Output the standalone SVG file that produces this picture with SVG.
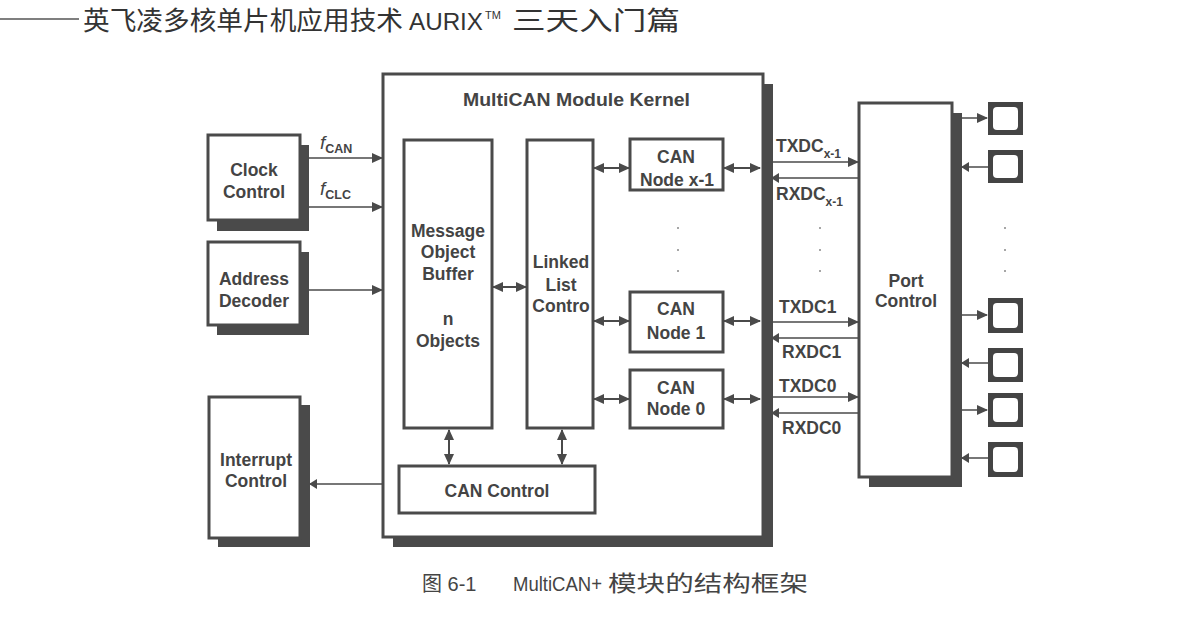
<svg xmlns="http://www.w3.org/2000/svg" width="1178" height="621" viewBox="0 0 1178 621">
<style>
.t{font-family:"Liberation Sans","Noto Sans CJK SC",sans-serif;fill:#444}
.b{font-weight:bold;font-size:17.5px}
.box{fill:#fff;stroke:#4a4a4a;stroke-width:3}
.sh{fill:#4a4a4a}
.ln{stroke:#4a4a4a;stroke-width:1.5;fill:none}
.da{stroke:#4a4a4a;stroke-width:2;fill:none;marker-start:url(#ah);marker-end:url(#ah)}
.pin{fill:#444}
.pinin{fill:#fff}
.dot{fill:#888}
.hd{fill:#333}
</style>
<defs>
<marker id="ah" markerUnits="userSpaceOnUse" markerWidth="11" markerHeight="10" refX="10" refY="5" orient="auto-start-reverse"><path d="M0,0 L11,5 L0,10 z" fill="#4a4a4a"/></marker>
<marker id="as" markerUnits="userSpaceOnUse" markerWidth="8" markerHeight="10" refX="7" refY="5" orient="auto"><path d="M0,0 L8,5 L0,10 z" fill="#4a4a4a"/></marker>
</defs>
<rect width="1178" height="621" fill="#fff"/>
<g id="header">
<line x1="0" y1="19" x2="79" y2="19" stroke="#555" stroke-width="1.5"/>
<text class="t hd" x="83" y="30" font-size="26" textLength="320" lengthAdjust="spacingAndGlyphs">英飞凌多核单片机应用技术</text>
<text class="t hd" x="409" y="30" font-size="24" textLength="74" lengthAdjust="spacingAndGlyphs">AURIX</text>
<text class="t hd" x="485" y="19" font-size="11">TM</text>
<text class="t hd" x="512" y="30" font-size="26" textLength="168" lengthAdjust="spacingAndGlyphs">三天入门篇</text>
</g>
<g id="kernel">
<rect class="sh" x="393" y="84" width="380" height="463"/>
<rect class="box" x="383" y="74" width="380" height="463"/>
<text class="t b" x="463" y="106" textLength="227" lengthAdjust="spacingAndGlyphs">MultiCAN Module Kernel</text>
</g>
<g id="clock">
<rect class="sh" x="217" y="145" width="92" height="86"/>
<rect class="box" x="208" y="135" width="92" height="85"/>
<text class="t b" x="254" y="176" text-anchor="middle">Clock</text>
<text class="t b" x="254" y="198" text-anchor="middle">Control</text>
</g>
<g id="address">
<rect class="sh" x="217" y="252" width="92" height="83"/>
<rect class="box" x="208" y="242" width="92" height="83"/>
<text class="t b" x="254" y="285" text-anchor="middle">Address</text>
<text class="t b" x="254" y="307" text-anchor="middle">Decoder</text>
</g>
<g id="interrupt">
<rect class="sh" x="218" y="405" width="92" height="142"/>
<rect class="box" x="209" y="397" width="91" height="141"/>
<text class="t b" x="256" y="466" text-anchor="middle">Interrupt</text>
<text class="t b" x="256" y="487" text-anchor="middle">Control</text>
</g>
<g id="mob">
<rect class="box" x="404" y="140" width="88" height="288"/>
<text class="t b" x="448" y="237" text-anchor="middle">Message</text>
<text class="t b" x="448" y="258" text-anchor="middle">Object</text>
<text class="t b" x="448" y="280" text-anchor="middle">Buffer</text>
<text class="t b" x="448" y="325" text-anchor="middle">n</text>
<text class="t b" x="448" y="347" text-anchor="middle">Objects</text>
</g>
<g id="llc">
<rect class="box" x="527" y="140" width="66" height="288"/>
<text class="t b" x="561" y="268" text-anchor="middle">Linked</text>
<text class="t b" x="561" y="291" text-anchor="middle">List</text>
<text class="t b" x="561" y="312" text-anchor="middle">Contro</text>
</g>
<g id="nodex1">
<rect class="box" x="630" y="139" width="93" height="51"/>
<text class="t b" x="676" y="163" text-anchor="middle">CAN</text>
<text class="t b" x="677" y="186" text-anchor="middle">Node x-1</text>
</g>
<g id="node1">
<rect class="box" x="630" y="292" width="93" height="60"/>
<text class="t b" x="676" y="315" text-anchor="middle">CAN</text>
<text class="t b" x="676" y="339" text-anchor="middle">Node 1</text>
</g>
<g id="node0">
<rect class="box" x="630" y="370" width="93" height="58"/>
<text class="t b" x="676" y="394" text-anchor="middle">CAN</text>
<text class="t b" x="676" y="415" text-anchor="middle">Node 0</text>
</g>
<g id="cancontrol">
<rect class="box" x="399" y="466" width="196" height="47"/>
<text class="t b" x="497" y="497" text-anchor="middle">CAN Control</text>
</g>
<g id="port">
<rect class="sh" x="869" y="113" width="93" height="374"/>
<rect class="box" x="859" y="103" width="93" height="374"/>
<text class="t b" x="906" y="287" text-anchor="middle">Port</text>
<text class="t b" x="906" y="307" text-anchor="middle">Control</text>
</g>
<g id="pins">
<rect class="pin" x="988" y="102" width="35" height="33"/><rect class="pinin" x="993" y="107" width="25" height="23" rx="4"/>
<rect class="pin" x="988" y="150" width="35" height="33"/><rect class="pinin" x="993" y="155" width="25" height="23" rx="4"/>
<rect class="pin" x="988" y="298" width="35" height="35"/><rect class="pinin" x="993" y="303" width="25" height="25" rx="4"/>
<rect class="pin" x="988" y="348" width="35" height="34"/><rect class="pinin" x="993" y="353" width="25" height="24" rx="4"/>
<rect class="pin" x="988" y="393" width="35" height="34"/><rect class="pinin" x="993" y="398" width="25" height="24" rx="4"/>
<rect class="pin" x="988" y="442" width="35" height="35"/><rect class="pinin" x="993" y="447" width="25" height="25" rx="4"/>
</g>
<g id="dots">
<circle class="dot" cx="678" cy="228" r="1"/><circle class="dot" cx="678" cy="250" r="1"/><circle class="dot" cx="678" cy="271" r="1"/>
<circle class="dot" cx="820" cy="228" r="1"/><circle class="dot" cx="820" cy="250" r="1"/><circle class="dot" cx="820" cy="271" r="1"/>
<circle class="dot" cx="1005" cy="228" r="1"/><circle class="dot" cx="1005" cy="250" r="1"/><circle class="dot" cx="1005" cy="271" r="1"/>
</g>
<g id="connectors">
<line class="ln" x1="309" y1="158" x2="382" y2="158" marker-end="url(#ah)"/>
<line class="ln" x1="309" y1="207" x2="382" y2="207" marker-end="url(#ah)"/>
<line class="ln" x1="309" y1="290" x2="382" y2="290" marker-end="url(#ah)"/>
<line class="ln" x1="382" y1="484" x2="310" y2="484" marker-end="url(#as)"/>
<line class="da" x1="493" y1="287" x2="526" y2="287"/>
<line class="da" x1="594" y1="168" x2="629" y2="168"/>
<line class="da" x1="594" y1="321" x2="629" y2="321"/>
<line class="da" x1="594" y1="399" x2="629" y2="399"/>
<line class="da" x1="724" y1="168" x2="760" y2="168"/>
<line class="da" x1="724" y1="321" x2="760" y2="321"/>
<line class="da" x1="724" y1="399" x2="760" y2="399"/>
<line class="da" x1="449" y1="430" x2="449" y2="464"/>
<line class="da" x1="562" y1="430" x2="562" y2="464"/>
<line class="ln" x1="773" y1="162" x2="858" y2="162" marker-end="url(#ah)"/>
<line class="ln" x1="858" y1="178" x2="772" y2="178" marker-end="url(#as)"/>
<line class="ln" x1="773" y1="322" x2="858" y2="322" marker-end="url(#ah)"/>
<line class="ln" x1="858" y1="338" x2="772" y2="338" marker-end="url(#as)"/>
<line class="ln" x1="773" y1="397" x2="858" y2="397" marker-end="url(#ah)"/>
<line class="ln" x1="858" y1="413" x2="772" y2="413" marker-end="url(#as)"/>
<line class="ln" x1="962" y1="118" x2="987" y2="118" marker-end="url(#ah)"/>
<line class="ln" x1="988" y1="167" x2="962" y2="167" marker-end="url(#as)"/>
<line class="ln" x1="962" y1="315" x2="987" y2="315" marker-end="url(#ah)"/>
<line class="ln" x1="988" y1="363" x2="962" y2="363" marker-end="url(#as)"/>
<line class="ln" x1="962" y1="410" x2="987" y2="410" marker-end="url(#ah)"/>
<line class="ln" x1="988" y1="458" x2="962" y2="458" marker-end="url(#as)"/>
</g>
<g id="labels">
<text class="t" x="320" y="149" font-size="19"><tspan font-style="italic">f</tspan><tspan font-size="12.5" dy="4" font-weight="bold">CAN</tspan></text>
<text class="t" x="320" y="195" font-size="19"><tspan font-style="italic">f</tspan><tspan font-size="12.5" dy="4" font-weight="bold">CLC</tspan></text>
<text class="t b" x="776" y="152">TXDC<tspan font-size="12" dy="6">x-1</tspan></text>
<text class="t b" x="776" y="200">RXDC<tspan font-size="12" dy="6">x-1</tspan></text>
<text class="t b" x="779" y="313">TXDC1</text>
<text class="t b" x="782" y="358">RXDC1</text>
<text class="t b" x="779" y="392">TXDC0</text>
<text class="t b" x="782" y="434">RXDC0</text>
</g>
<g id="caption">
<text class="t" x="422" y="591" font-size="20">图 6-1</text>
<text class="t" x="513" y="591" font-size="20" textLength="89" lengthAdjust="spacingAndGlyphs">MultiCAN+</text>
<text class="t" x="608" y="591" font-size="22" textLength="200" lengthAdjust="spacingAndGlyphs">模块的结构框架</text>
</g>
</svg>
